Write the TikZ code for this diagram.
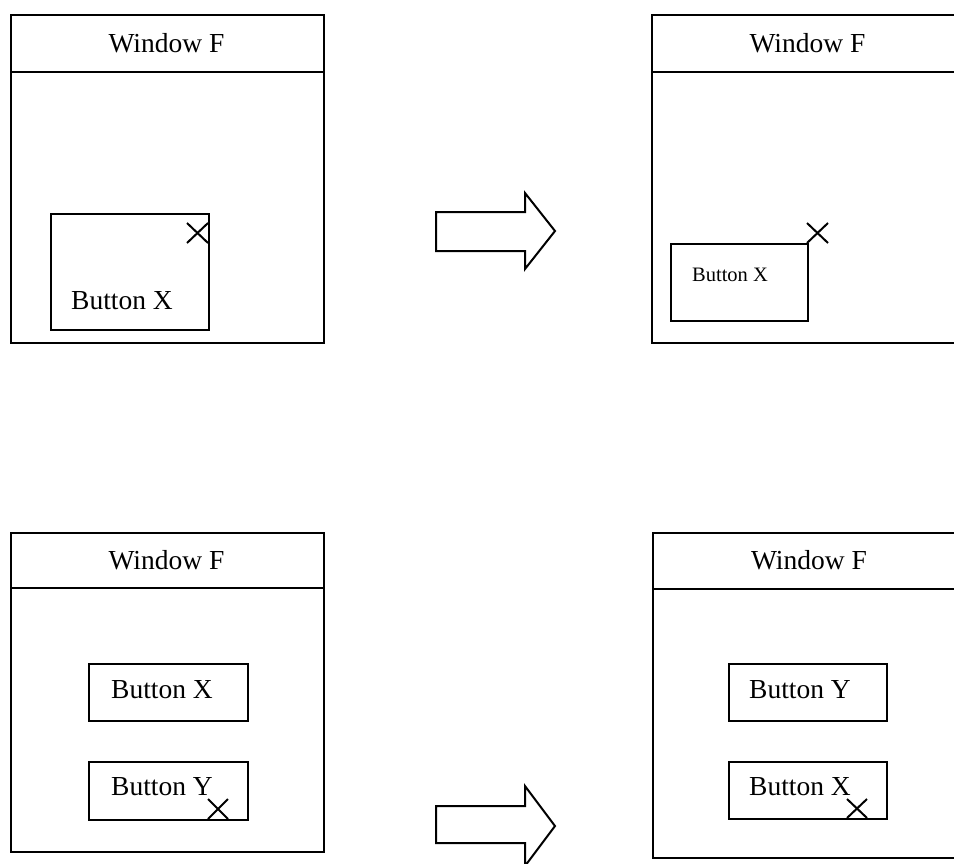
\documentclass[tikz,border=0pt]{standalone}
\usepackage{fontspec}
\setmainfont{Liberation Serif}
\begin{document}
\begin{tikzpicture}[x=1pt,y=-1pt,
  line join=miter,
  winbox/.style={draw=black,line width=2pt,fill=white,anchor=north west,inner sep=0pt,
                 minimum width=313pt,minimum height=328pt},
  btnbox/.style={draw=black,line width=2pt,anchor=north west,inner sep=0pt},
  title/.style={font=\fontsize{27.5}{30}\selectfont,inner sep=0pt},
  caption/.style={font=\fontsize{27.5}{30}\selectfont,inner sep=0pt},
  smallcaption/.style={font=\fontsize{20.5}{23}\selectfont,inner sep=0pt},
  xmark/.style={line width=2pt,line cap=butt},
  bigarrow/.style={draw=black,line width=2pt,fill=white,line join=miter}
]
\useasboundingbox (0,0) rectangle (954,863);
\clip (0,0) rectangle (954,863);

% ---- top left: window with button X ----
\node[winbox] (wA) at (10,14) {};
\draw[line width=2pt] (10,72) -- (323,72);
\node[title] (tA) at (166.5,43) {Window F};
\node[btnbox,minimum width=158pt,minimum height=116pt] (bA) at (50,213) {};
\node[caption] (lA) at (122,301) {Button X};
\draw[xmark] (187,223) -- (208,243) (187,243) -- (208,223);

% ---- arrow ----
\draw[bigarrow] (436,212) -- (525,212) -- (525,193) -- (555,231) -- (525,269)
  -- (525,251) -- (436,251) -- cycle;

% ---- top right: window with button X moved ----
\node[winbox] (wB) at (651,14) {};
\draw[line width=2pt] (651,72) -- (964,72);
\node[title] (tB) at (807.5,43) {Window F};
\node[btnbox,minimum width=137pt,minimum height=77pt] (bB) at (670,243) {};
\node[smallcaption] (lB) at (730,275) {Button X};
\draw[xmark] (807,243) -- (828,223) (807,223) -- (828,243);

% ---- bottom left: window with buttons X and Y ----
\node[winbox,minimum height=319pt] (wC) at (10,532) {};
\draw[line width=2pt] (10,588) -- (323,588);
\node[title] (tC) at (166.5,560) {Window F};
\node[btnbox,minimum width=159pt,minimum height=57pt] (bC1) at (88,663) {};
\node[caption] (lC1) at (162,690) {Button X};
\node[btnbox,minimum width=159pt,minimum height=58pt] (bC2) at (88,761) {};
\node[caption] (lC2) at (162,787) {Button Y};
\draw[xmark] (208,799) -- (228,819) (208,819) -- (228,799);

% ---- arrow ----
\draw[bigarrow] (436,806) -- (525,806) -- (525,786) -- (555,826) -- (525,866)
  -- (525,843) -- (436,843) -- cycle;

% ---- bottom right: window with buttons Y and X swapped ----
\node[winbox,minimum height=325pt] (wD) at (652,532) {};
\draw[line width=2pt] (652,589) -- (965,589);
\node[title] (tD) at (809,560) {Window F};
\node[btnbox,minimum width=158pt,minimum height=57pt] (bD1) at (728,663) {};
\node[caption] (lD1) at (800,690) {Button Y};
\node[btnbox,minimum width=158pt,minimum height=57pt] (bD2) at (728,761) {};
\node[caption] (lD2) at (800,787) {Button X};
\draw[xmark] (847,799) -- (867,818) (847,818) -- (867,799);
\end{tikzpicture}
\end{document}
